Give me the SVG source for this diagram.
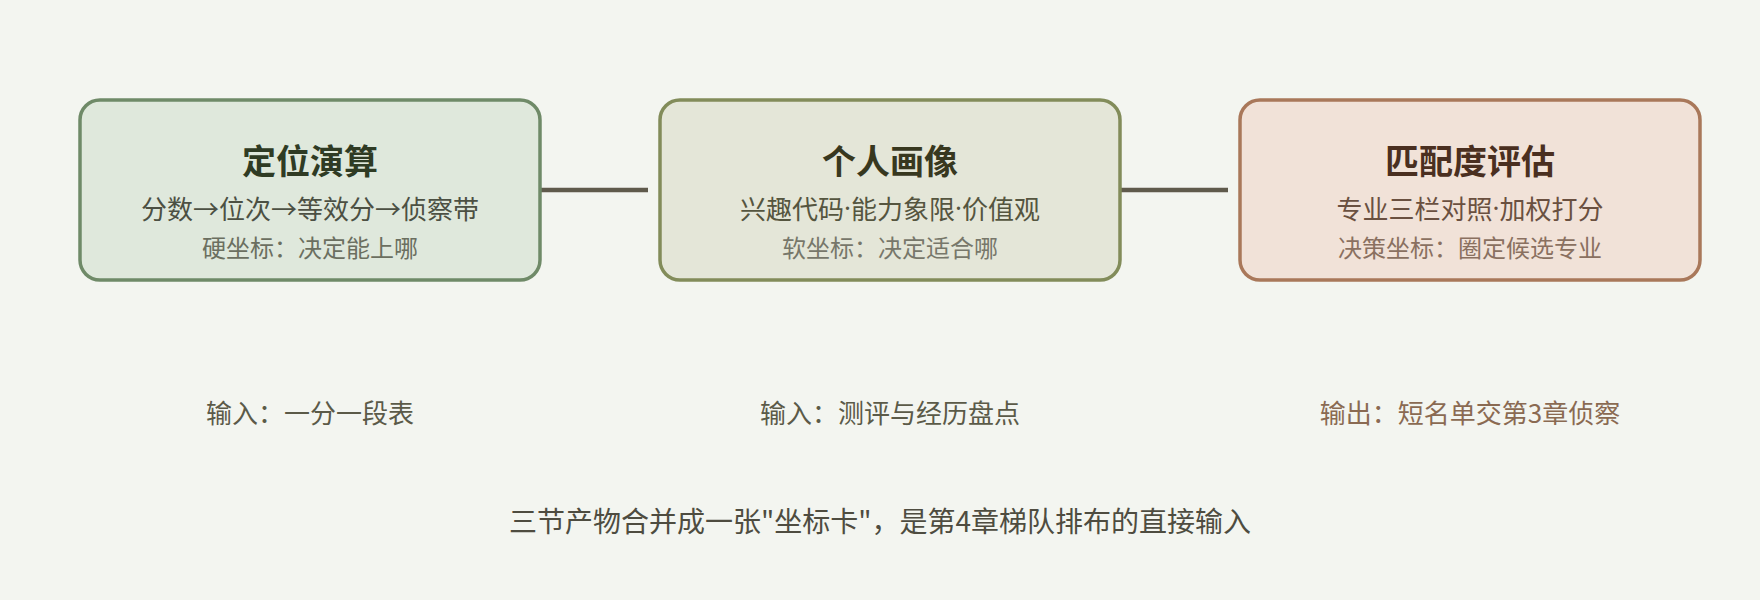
<svg xmlns="http://www.w3.org/2000/svg" width="1760" height="600" viewBox="0 0 1760 600">
<style>
text{font-family:"Noto Sans CJK SC","Noto Sans",sans-serif;text-anchor:middle;dominant-baseline:central}
.dot{font-family:"Noto Sans","Liberation Sans",sans-serif}
.box{stroke-width:3.5}
.t{font-size:34px;font-weight:bold}
.s{font-size:26px}
.n{font-size:24px}
.lab{font-size:26px}
.conn{stroke:#5f5a4c;stroke-width:4.5;fill:none}
</style>
<rect width="1760" height="600" fill="#f3f5f0"/>
<g id="connectors">
<line class="conn" x1="540" y1="190" x2="648" y2="190"/>
<line class="conn" x1="1120" y1="190" x2="1228" y2="190"/>
</g>
<g id="node-positioning">
<rect class="box" x="80" y="100" width="460" height="180" rx="20" fill="#dfe8dc" stroke="#6f8a68"/>
<text class="t" x="310" y="159" fill="#2f3b24">定位演算</text>
<text class="s" x="310" y="207" fill="#4c5043">分数→位次→等效分→侦察带</text>
<text class="n" x="310" y="246" fill="#6b6f60">硬坐标：决定能上哪</text>
</g>
<g id="node-profile">
<rect class="box" x="660" y="100" width="460" height="180" rx="20" fill="#e4e6d8" stroke="#828c5a"/>
<text class="t" x="890" y="159" fill="#38381f">个人画像</text>
<text class="s" x="890" y="207" fill="#55553f">兴趣代码<tspan class="dot">·</tspan>能力象限<tspan class="dot">·</tspan>价值观</text>
<text class="n" x="890" y="246" fill="#77776a">软坐标：决定适合哪</text>
</g>
<g id="node-match">
<rect class="box" x="1240" y="100" width="460" height="180" rx="20" fill="#f1e2d8" stroke="#a9785a"/>
<text class="t" x="1470" y="159" fill="#4a2f20">匹配度评估</text>
<text class="s" x="1470" y="207" fill="#6a5040">专业三栏对照<tspan class="dot">·</tspan>加权打分</text>
<text class="n" x="1470" y="246" fill="#8a7060">决策坐标：圈定候选专业</text>
</g>
<g id="labels">
<text class="lab" x="310" y="411" fill="#5b5a48">输入：一分一段表</text>
<text class="lab" x="890" y="411" fill="#5b5a48">输入：测评与经历盘点</text>
<text class="lab" x="1470" y="411" fill="#8a6a52">输出：短名单交第3章侦察</text>
<text x="880" y="520" font-size="28" fill="#4e4c40">三节产物合并成一张"坐标卡"，是第4章梯队排布的直接输入</text>
</g>
</svg>
